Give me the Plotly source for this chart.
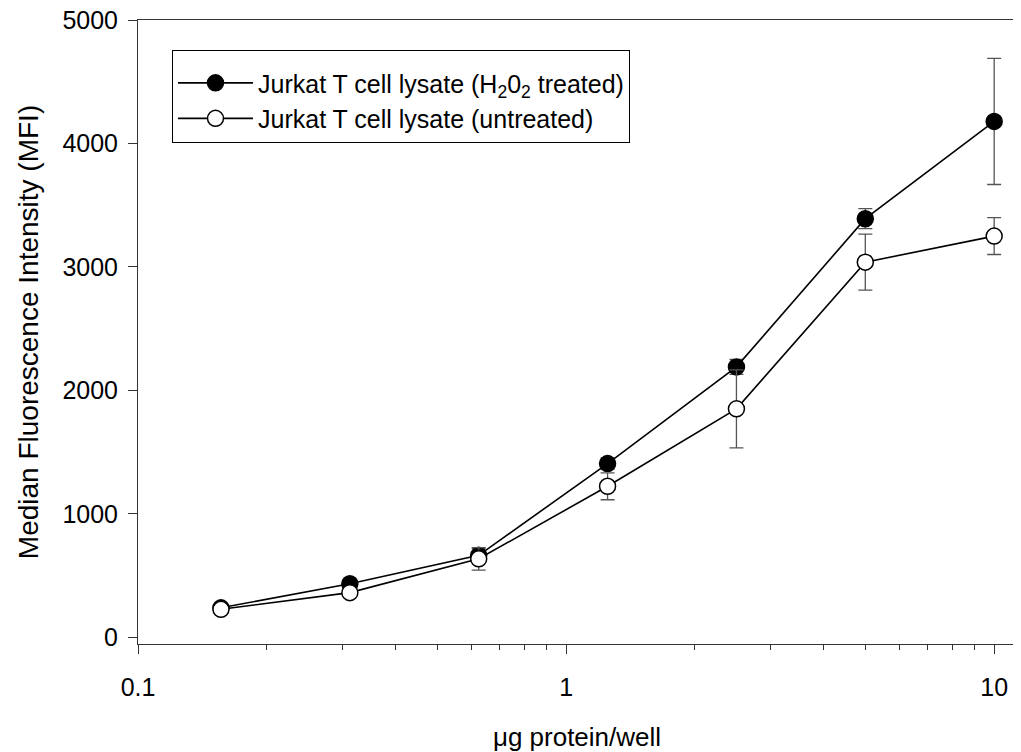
import plotly.graph_objects as go

# ---- data ----
protein_ug = [0.15625, 0.3125, 0.625, 1.25, 2.5, 5, 10]
treated_mfi = [240, 435, 665, 1408, 2191, 3391, 4179]
treated_err = [15, 20, 56, 45, 60, 81, 511]
untreated_mfi = [228, 363, 637, 1224, 1851, 3039, 3250]
untreated_err = [15, 20, 91, 109, 316, 227, 149]

treated_name = "Jurkat T cell lysate (H<sub>2</sub>0<sub>2</sub> treated)"
untreated_name = "Jurkat T cell lysate (untreated)"

y_ticks = [0, 1000, 2000, 3000, 4000, 5000]
x_major = [0.1, 1, 10]
x_major_labels = ["0.1", "1", "10"]
x_minor = [0.2, 0.3, 0.4, 0.5, 0.6, 0.7, 0.8, 0.9, 2, 3, 4, 5, 6, 7, 8, 9]

FONT = "Liberation Sans, Arial, sans-serif"
AX = "#333333"

fig = go.Figure()

fig.add_trace(go.Scatter(
    x=protein_ug, y=treated_mfi, name=treated_name, mode="lines+markers",
    line=dict(color="black", width=1.6),
    marker=dict(symbol="circle", size=16, color="black", line=dict(color="black", width=1.5)),
    error_y=dict(type="data", array=treated_err, color="#555555", thickness=1.3, width=7),
    legendrank=1,
))
fig.add_trace(go.Scatter(
    x=protein_ug, y=untreated_mfi, name=untreated_name, mode="lines+markers",
    line=dict(color="black", width=1.6),
    marker=dict(symbol="circle", size=16, color="white", line=dict(color="black", width=1.5)),
    error_y=dict(type="data", array=untreated_err, color="#555555", thickness=1.3, width=7),
    legendrank=2,
))

x_range = [-1, 1.051]
# page body has an 8px default margin: figure is 8px smaller and shifted
W, H = 1013, 744
L, R, T, B = 130, 5, 12, 108
pw = W - L - R
ph = H - T - B

fig.update_layout(
    width=W, height=H,
    margin=dict(l=L, r=R, t=T, b=B, autoexpand=False),
    paper_bgcolor="white", plot_bgcolor="white",
    font=dict(family=FONT, color="black"),
    showlegend=True,
    legend=dict(
        x=(164 - L) / pw, y=1 - (42 - T) / ph, xref="paper", yref="paper",
        xanchor="left", yanchor="top",
        bordercolor="black", borderwidth=1, bgcolor="white",
        font=dict(family=FONT, size=25, color="black"),
        itemwidth=75,
        title=dict(text="\u00a0", font=dict(size=7)),
    ),
    xaxis=dict(
        type="log", range=x_range, automargin=False,
        tickvals=x_major, ticktext=x_major_labels,
        ticks="outside", ticklen=9, tickwidth=1, tickcolor=AX,
        showline=True, linecolor=AX, linewidth=1, mirror=True,
        showgrid=False, zeroline=False,
        tickfont=dict(family=FONT, size=25, color="black"),
        ticklabelstandoff=12, ticklabeloverflow="allow",
        minor=dict(tickvals=x_minor, ticks="outside", ticklen=5, tickwidth=1, tickcolor=AX, showgrid=False),
        title=dict(text="\u03bcg protein/well", font=dict(family=FONT, size=26, color="black"), standoff=31),
    ),
    xaxis2=dict(
        type="log", range=x_range, overlaying="x", anchor="y", side="bottom",
        tickvals=x_major, ticks="inside", ticklen=9, tickwidth=1, tickcolor=AX,
        showticklabels=False, showline=False, showgrid=False, zeroline=False,
    ),
    yaxis=dict(
        range=[-53, 5000], tickvals=y_ticks, automargin=False,
        ticks="outside", ticklen=9, tickwidth=1, tickcolor=AX,
        showline=True, linecolor=AX, linewidth=1,
        showgrid=False, zeroline=False,
        tickfont=dict(family=FONT, size=25, color="black"),
        ticklabelstandoff=5, ticklabeloverflow="allow",
        title=dict(text="Median Fluorescence Intensity (MFI)", font=dict(family=FONT, size=28, color="black"), standoff=15),
    ),
)

fig.write_html("out.html")
